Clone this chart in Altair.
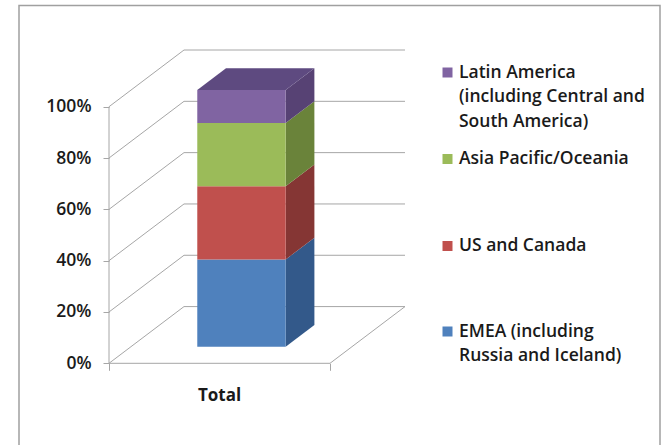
import altair as alt
import pandas as pd

# ---------------- data ----------------
regions = [
    "EMEA (including Russia and Iceland)",
    "US and Canada",
    "Asia Pacific/Oceania",
    "Latin America (including Central and South America)",
]
shares = [34.0, 28.5, 24.7, 12.8]          # percent of total, bottom to top
legend_lines = [
    ["EMEA (including", "Russia and Iceland)"],
    ["US and Canada"],
    ["Asia Pacific/Oceania"],
    ["Latin America", "(including Central and", "South America)"],
]
category = "Total"
y_ticks = [0, 20, 40, 60, 80, 100]

# ---------------- style ----------------
front_colors = ["#4f81bd", "#c0504d", "#9bbb59", "#8064a2"]
side_colors = ["#33598a", "#853634", "#6a833a", "#574274"]
top_color = "#5e4a80"
grid_color = "#a6a6a6"
text_color = "#1a1a1a"
FONT = "Open Sans"
FS = 17.5
FW = 600

# ---------------- layout / geometry ----------------
W, H = 300, 313.3            # plot area (px)
PAD_L, PAD_T = 109, 50
FLOOR_W = 221                # front floor width (x units == px)
DX, DY = 75, 22.1            # full 3D depth offset (x units, percent units)
Y_MAX = 100 + DY
BAR_W_FRAC = 0.4
BAR_FRONT, BAR_BACK = 0.293, 0.676
LEGEND_SQ_X, LEGEND_TX_X = 338.5, 350
LEGEND_Y = [281.5, 196, 109, 22.5]   # first line of each entry (px from plot top)
LINE_H = 24.5

xs = alt.Scale(domain=[0, W], nice=False, zero=False)
ys = alt.Scale(domain=[0, Y_MAX], nice=False, zero=False)

keys_front = [r + " front" for r in regions]
keys_side = [r + " side" for r in regions]
key_domain = keys_front + keys_side + ["top"]
key_range = front_colors + side_colors + [top_color]
cscale = alt.Scale(domain=key_domain, range=key_range)

x_axis = alt.Axis(values=[0, FLOOR_W], labels=False, domain=False, grid=False, ticks=True,
                  tickSize=7, tickColor=grid_color, tickWidth=1, title=None)
y_axis = alt.Axis(values=y_ticks, labelExpr="datum.value + '%'", domain=False, grid=False,
                  ticks=True, tickSize=6, tickColor=grid_color, tickWidth=1, labelPadding=12,
                  labelFont=FONT, labelFontSize=FS, labelFontWeight=FW,
                  labelColor=text_color, title=None)

# ---------------- frame lines ----------------
frame = []
for v in y_ticks:
    frame.append(dict(x=DX, y=v + DY, x2=FLOOR_W + DX, y2=v + DY))   # back wall
    frame.append(dict(x=0, y=v, x2=DX, y2=v + DY))                   # side wall
frame.append(dict(x=0, y=0, x2=0, y2=100))                           # front axis line
frame.append(dict(x=0, y=0, x2=FLOOR_W, y2=0))                       # floor front
frame.append(dict(x=FLOOR_W, y=0, x2=FLOOR_W + DX, y2=DY))           # floor right
frame_df = pd.DataFrame(frame)

frame_layer = alt.Chart(frame_df).mark_rule(color=grid_color, strokeWidth=1).encode(
    x=alt.X("x:Q", scale=xs, axis=x_axis),
    x2="x2:Q",
    y=alt.Y("y:Q", scale=ys, axis=y_axis),
    y2="y2:Q",
)

# ---------------- 3D bar ----------------
XL = FLOOR_W / 2 - BAR_W_FRAC * FLOOR_W / 2 + BAR_FRONT * DX
XR = XL + BAR_W_FRAC * FLOOR_W
OFF = BAR_FRONT * DY
BDX = (BAR_BACK - BAR_FRONT) * DX
BDY = (BAR_BACK - BAR_FRONT) * DY

front_rows, side_rows = [], []
cum = 0.0
for r, s, kf, ks in zip(regions, shares, keys_front, keys_side):
    lo, hi = cum, cum + s
    cum = hi
    front_rows.append(dict(key=kf, x=XL, x2=XR, y=lo + OFF, y2=hi + OFF, region=r, share=s))
    side_rows.append(dict(key=ks, x=XR, y=lo + OFF, y2=hi + OFF))
    side_rows.append(dict(key=ks, x=XR + BDX, y=lo + OFF + BDY, y2=hi + OFF + BDY))
T = cum + OFF
top_rows = [
    dict(key="top", x=XL, y=T, y2=T),
    dict(key="top", x=XL + BDX, y=T, y2=T + BDY),
    dict(key="top", x=XR, y=T, y2=T + BDY),
    dict(key="top", x=XR + BDX, y=T + BDY, y2=T + BDY),
]

front_layer = alt.Chart(pd.DataFrame(front_rows)).mark_rect(strokeWidth=0).encode(
    x=alt.X("x:Q", scale=xs, axis=x_axis), x2="x2:Q",
    y=alt.Y("y:Q", scale=ys, axis=y_axis), y2="y2:Q",
    color=alt.Color("key:N", scale=cscale, legend=None),
)
side_layer = alt.Chart(pd.DataFrame(side_rows)).mark_area(strokeWidth=0, opacity=1).encode(
    x=alt.X("x:Q", scale=xs, axis=x_axis),
    y=alt.Y("y:Q", scale=ys, axis=y_axis), y2="y2:Q",
    color=alt.Color("key:N", scale=cscale, legend=None),
    detail="key:N",
)
top_layer = alt.Chart(pd.DataFrame(top_rows)).mark_area(strokeWidth=0, opacity=1).encode(
    x=alt.X("x:Q", scale=xs, axis=x_axis),
    y=alt.Y("y:Q", scale=ys, axis=y_axis), y2="y2:Q",
    color=alt.Color("key:N", scale=cscale, legend=None),
)

# ---------------- category label ----------------
cat_layer = alt.Chart(pd.DataFrame([dict(label=category, x=FLOOR_W / 2)])).mark_text(
    font=FONT, fontSize=FS - 0.5, fontWeight="bold", color=text_color, baseline="middle"
).encode(
    x=alt.X("x:Q", scale=xs, axis=x_axis),
    y=alt.value(H + 33),
    text="label:N",
)

# ---------------- legend ----------------
leg_sq, leg_tx = [], []
for r, kf, lines, y0 in zip(regions, keys_front, legend_lines, LEGEND_Y):
    leg_sq.append(dict(key=kf, py=y0))
    for i, ln in enumerate(lines):
        leg_tx.append(dict(text=ln, py=y0 + i * LINE_H))

leg_sq_layer = alt.Chart(pd.DataFrame(leg_sq)).mark_square(size=100, opacity=1).encode(
    x=alt.value(LEGEND_SQ_X),
    y=alt.Y("py:Q", scale=None),
    color=alt.Color("key:N", scale=cscale, legend=None),
)
leg_tx_layer = alt.Chart(pd.DataFrame(leg_tx)).mark_text(
    font=FONT, fontSize=FS, fontWeight=FW, color=text_color, align="left", baseline="middle"
).encode(
    x=alt.value(LEGEND_TX_X),
    y=alt.Y("py:Q", scale=None),
    text="text:N",
)

# ---------------- outer border ----------------
border_layer = alt.Chart(pd.DataFrame([dict(a=1)])).mark_rect(
    filled=False, stroke="#a0a0a0", strokeWidth=1.5
).encode(
    x=alt.value(19 - PAD_L), x2=alt.value(660 - PAD_L),
    y=alt.value(5.5 - PAD_T), y2=alt.value(460 - PAD_T),
)

chart = alt.layer(
    frame_layer, border_layer, side_layer, front_layer, top_layer,
    cat_layer, leg_sq_layer, leg_tx_layer,
).properties(
    width=W, height=H,
    padding={"left": PAD_L, "top": PAD_T, "right": 661 - PAD_L - W, "bottom": 445 - PAD_T - H},
    autosize="none",
    background="white",
).configure_view(strokeWidth=0)

chart.save("out.html", embed_options={"renderer": "svg", "actions": False})
